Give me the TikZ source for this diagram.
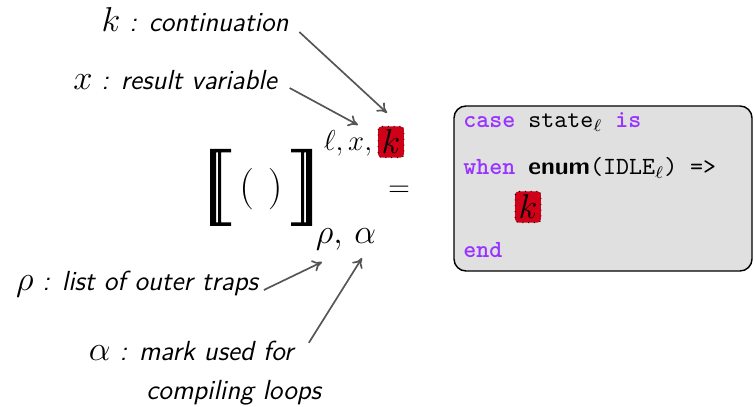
\documentclass[tikz,border=0pt]{standalone}
\usepackage{fontspec}
\usepackage{amsmath,amssymb}
\usepackage{xcolor}
\usetikzlibrary{positioning, arrows.meta, calc}

\definecolor{kred}{RGB}{208,0,24}
\definecolor{kwpurple}{RGB}{153,51,255}
\definecolor{codegray}{RGB}{224,224,224}
\definecolor{arrowgray}{RGB}{85,85,85}

\newcommand{\kw}[1]{\textcolor{kwpurple}{\textbf{#1}}}

\begin{document}
\begin{tikzpicture}[x=0.4167pt, y=-0.4167pt,
    label/.style={font=\sffamily\itshape\fontsize{11.5}{13.5}\selectfont, inner sep=1pt, align=left},
    pointer/.style={draw=arrowgray, line width=0.7pt, -{To[length=4pt,width=5pt]}},
    holebox/.style={fill=kred, draw=black, dotted, rounded corners=1.5pt, inner sep=1.5pt, font=\Large},
    codebox/.style={draw=black, fill=codegray, line width=0.6pt, rounded corners=5pt},
    codeline/.style={font=\ttfamily\fontsize{10.3}{12}\selectfont, anchor=west, inner sep=0pt}]

    \useasboundingbox (0,0) rectangle (755,407);

    % Semantic brackets with their indices
    \node[font=\LARGE] (sem) at (261,189) {$(\,\,)$};
    \fill (210,149) rectangle (216,226) (218,149) rectangle (221,226)
          (210,149) rectangle (231,152.5) (210,222.5) rectangle (231,226);
    \fill (306,149) rectangle (312,226) (301,149) rectangle (304,226)
          (291,149) rectangle (312,152.5) (291,222.5) rectangle (312,226);
    \node[font=\fontsize{12.5}{14}\selectfont, inner sep=0pt] (supidx) at (348,143) {$\ell, x,$};
    \node[holebox] (kbox) at (391,142) {$k$};
    \node[font=\Large, inner sep=0pt] (subidx) at (346,239) {$\rho,\,\alpha$};
    \node[font=\large] (eq) at (399,191) {$=$};

    % Generated code
    \draw[codebox] (454,106) rectangle (752,271);
    \node[codeline] (line1) at (463,122) {\kw{case} state$_\ell$ \kw{is}};
    \node[codeline] (line2) at (463,168) {\kw{when} \textsf{\textbf{enum}}(IDLE$_\ell$) =>};
    \node[holebox] (kinner) at (528,207) {$k$};
    \node[codeline] (line4) at (463,250) {\kw{end}};

    % Explanations
    \node[label] (klabel) at (195,20) {{\Large$k$} : continuation};
    \node[label] (xlabel) at (175,80) {{\Large$x$} : result variable};
    \node[label] (rholabel) at (137,284) {{\Large$\rho$} : list of outer traps};
    \node[label, anchor=west] (alphalabel) at (86,373) {{\Large$\alpha$} : mark used for\\[3pt] \hspace*{24pt}compiling loops};

    \draw[pointer] ([shift={(8,12)}]klabel.east) -- ([shift={(-4,-13)}]kbox.north);
    \draw[pointer] ([shift={(10,8)}]xlabel.east) -- ([shift={(10,-18)}]supidx.center);
    \draw[pointer] ([shift={(3,6)}]rholabel.east) -- ([shift={(-24,23)}]subidx.center);
    \draw[pointer] ([shift={(-15,5)}]alphalabel.north east) -- ([shift={(16,19)}]subidx.center);

\end{tikzpicture}
\end{document}
